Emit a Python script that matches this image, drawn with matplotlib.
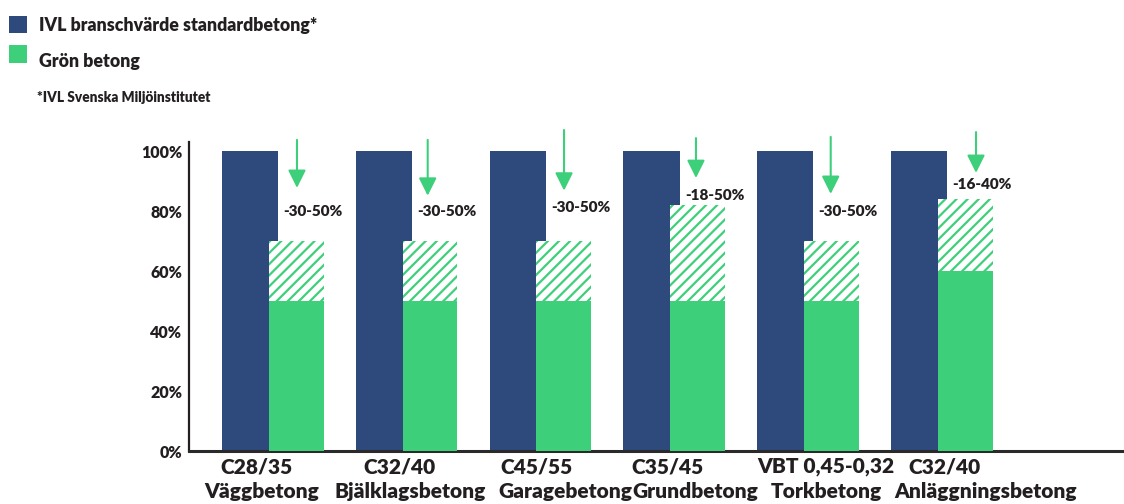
import matplotlib
matplotlib.use('Agg')
import matplotlib.pyplot as plt
from matplotlib.patches import Rectangle

# concrete classes, two label lines each
classes = ['C28/35', 'C32/40', 'C45/55', 'C35/45', 'VBT 0,45-0,32', 'C32/40']
products = ['Väggbetong', 'Bjälklagsbetong', 'Garagebetong', 'Grundbetong',
            'Torkbetong', 'Anläggningsbetong']

# IVL reference value is the 100 % baseline for every product
ivl_reference = [100, 100, 100, 100, 100, 100]
# climate reduction range of the green product, in percent of the reference
reduction_min = [30, 30, 30, 18, 30, 16]
reduction_max = [50, 50, 50, 50, 50, 40]

yticks = [0, 20, 40, 60, 80, 100]

NAVY = '#2E4A7C'
GREEN = '#3ECF7B'
INK = '#231F20'
FONT = 'Lato'
WEIGHT = 'heavy'

# layout of the reduction arrows / texts (x offset from group, arrow top, arrow tip, text y)
arrow_dx = [0.351, 0.328, 0.347, 0.333, 0.34, 0.426]
arrow_top = [103.7, 103.7, 107.0, 104.3, 104.7, 106.3]
arrow_tip = [87.7, 85.1, 86.8, 91.0, 85.7, 92.7]
text_y = [80.0, 79.7, 81.0, 85.0, 80.0, 89.0]
# x offsets of the two category label lines
line1_dx = [0.052, 0.114, 0.138, 0.117, 0.305, 0.187]
line2_dx = [0.090, 0.196, 0.354, 0.326, 0.305, 0.501]

plt.rcParams['font.family'] = [FONT, 'DejaVu Sans']
plt.rcParams['font.weight'] = WEIGHT
plt.rcParams['hatch.linewidth'] = 1.6

W, H = 1124, 504
fig = plt.figure(figsize=(W / 100, H / 100), dpi=100)
ax = fig.add_axes([189 / W, 53 / H, 935 / W, 309 / H])

x = list(range(len(classes)))
green_low = [100 - r for r in reduction_max]
green_high = [100 - r for r in reduction_min]
xg = [i + 0.345 for i in x]

ax.bar(x, ivl_reference, width=0.42, color=NAVY, linewidth=0, zorder=2)
ax.bar(xg, green_low, width=0.41, color=GREEN, linewidth=0, zorder=3)
ax.bar(xg, [h - l for h, l in zip(green_high, green_low)], bottom=green_low,
       width=0.41, color='white', edgecolor=GREEN, hatch='///', linewidth=0, zorder=3)

for i in x:
    ax.annotate('', xy=(i + arrow_dx[i], arrow_tip[i]), xytext=(i + arrow_dx[i], arrow_top[i]),
                arrowprops=dict(arrowstyle='-|>,head_width=0.54,head_length=1.08',
                                mutation_scale=10, color=GREEN, lw=1.5,
                                shrinkA=0, shrinkB=0),
                annotation_clip=False)
    ax.text(i + 0.25, text_y[i], f'-{reduction_min[i]}-{reduction_max[i]}%',
            ha='left', va='center', fontsize=11, color=INK, fontweight=WEIGHT)
    ax.annotate(classes[i], xy=(i + line1_dx[i], 0), xycoords=('data', 'axes fraction'),
                xytext=(0, -22 * 0.72), textcoords='offset points',
                ha='center', va='baseline', fontsize=15, color=INK, fontweight=WEIGHT)
    ax.annotate(products[i], xy=(i + line2_dx[i], 0), xycoords=('data', 'axes fraction'),
                xytext=(0, -47 * 0.72), textcoords='offset points',
                ha='center', va='baseline', fontsize=15, color=INK, fontweight=WEIGHT)

ax.set_xlim(-0.456, 6.532)
ax.set_ylim(0, 103)
ax.set_xticks([])
ax.set_yticks(yticks)
ax.set_yticklabels([f'{v}%' for v in yticks], fontsize=11.5, color=INK, fontweight=WEIGHT)
ax.tick_params(axis='y', length=0, pad=5)

for side in ('top', 'right'):
    ax.spines[side].set_visible(False)
ax.spines['left'].set_linewidth(1.6)
ax.spines['left'].set_color(INK)
ax.spines['bottom'].set_linewidth(2.2)
ax.spines['bottom'].set_color('#2a2a2a')

# legend drawn by hand in the upper left corner
def px(xp, yp):
    return xp / W, 1 - yp / H

fig.add_artist(Rectangle(px(9, 33), 18 / W, 17 / H, transform=fig.transFigure,
                         color=NAVY, linewidth=0))
fig.add_artist(Rectangle(px(9, 63), 18 / W, 18 / H, transform=fig.transFigure,
                         color=GREEN, linewidth=0))
fig.text(*px(39, 31.5), 'IVL branschvärde standardbetong*', fontsize=12.8,
         color=INK, fontweight=WEIGHT, va='baseline')
fig.text(*px(39, 67), 'Grön betong', fontsize=12.8, color=INK, fontweight=WEIGHT,
         va='baseline')
fig.text(*px(37, 102), '*IVL Svenska Miljöinstitutet', fontsize=9.8, color=INK,
         fontweight=WEIGHT, va='baseline')

fig.savefig('out.png', dpi=100)
